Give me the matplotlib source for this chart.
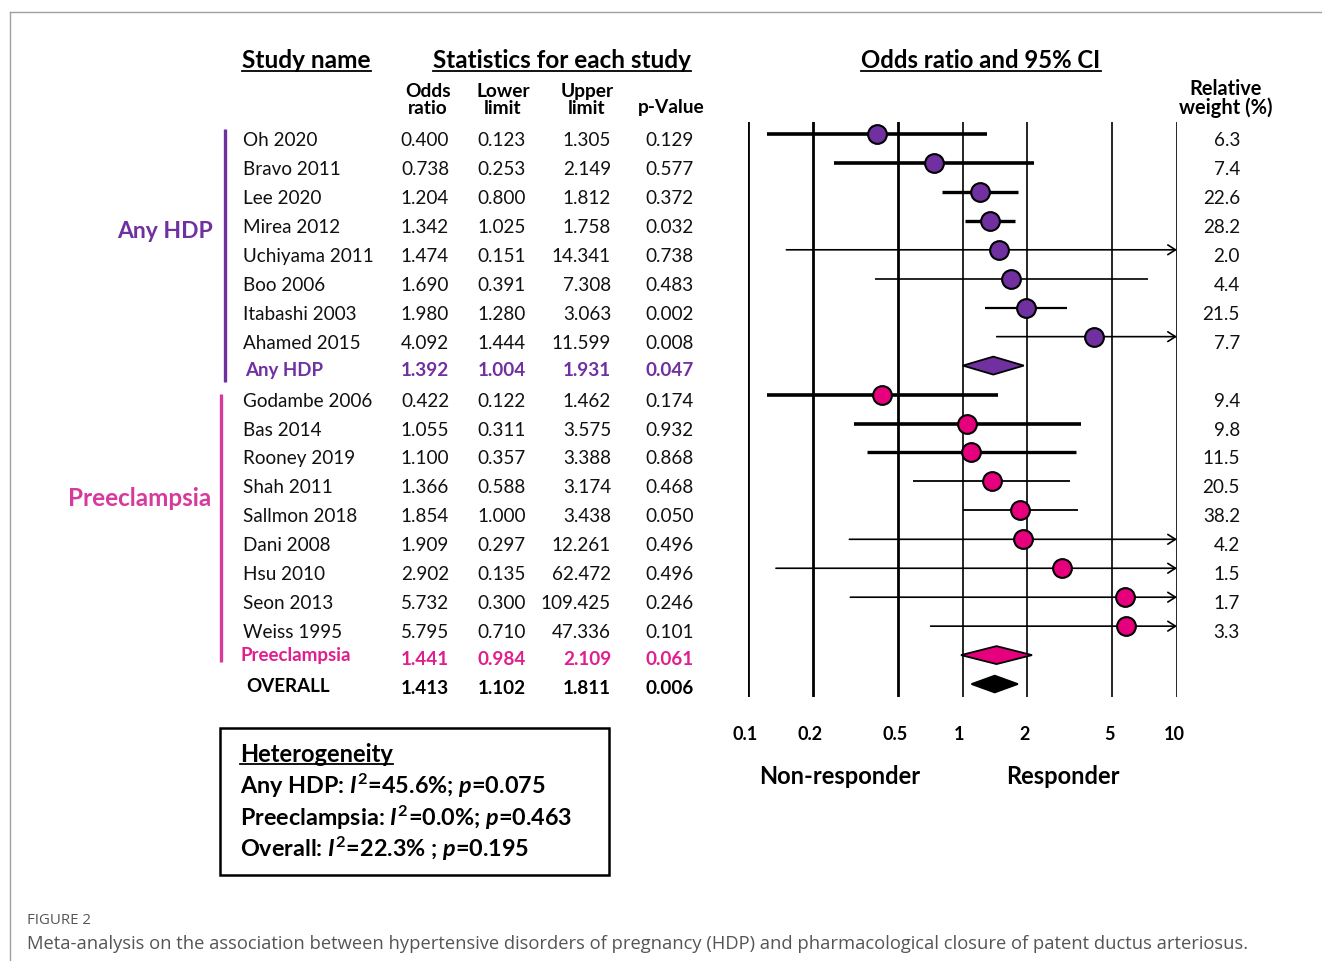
import matplotlib
matplotlib.use("Agg")
import matplotlib.pyplot as plt
from matplotlib.patches import Polygon, Rectangle

plt.rcParams['font.family'] = ['Lato', 'DejaVu Sans']
plt.rcParams['mathtext.fontset'] = 'custom'
plt.rcParams['mathtext.rm'] = 'Lato:bold'
plt.rcParams['mathtext.it'] = 'Lato:italic:bold'
plt.rcParams['mathtext.bf'] = 'Lato:bold'

# ---------------- data ----------------
hdp_names = ["Oh 2020", "Bravo 2011", "Lee 2020", "Mirea 2012", "Uchiyama 2011",
             "Boo 2006", "Itabashi 2003", "Ahamed 2015"]
hdp_or = [0.400, 0.738, 1.204, 1.342, 1.474, 1.690, 1.980, 4.092]
hdp_lo = [0.123, 0.253, 0.800, 1.025, 0.151, 0.391, 1.280, 1.444]
hdp_hi = [1.305, 2.149, 1.812, 1.758, 14.341, 7.308, 3.063, 11.599]
hdp_p = [0.129, 0.577, 0.372, 0.032, 0.738, 0.483, 0.002, 0.008]
hdp_w = [6.3, 7.4, 22.6, 28.2, 2.0, 4.4, 21.5, 7.7]
hdp_sum = [1.392, 1.004, 1.931, 0.047]

pe_names = ["Godambe 2006", "Bas 2014", "Rooney 2019", "Shah 2011", "Sallmon 2018",
            "Dani 2008", "Hsu 2010", "Seon 2013", "Weiss 1995"]
pe_or = [0.422, 1.055, 1.100, 1.366, 1.854, 1.909, 2.902, 5.732, 5.795]
pe_lo = [0.122, 0.311, 0.357, 0.588, 1.000, 0.297, 0.135, 0.300, 0.710]
pe_hi = [1.462, 3.575, 3.388, 3.174, 3.438, 12.261, 62.472, 109.425, 47.336]
pe_p = [0.174, 0.932, 0.868, 0.468, 0.050, 0.496, 0.496, 0.246, 0.101]
pe_w = [9.4, 9.8, 11.5, 20.5, 38.2, 4.2, 1.5, 1.7, 3.3]
pe_sum = [1.441, 0.984, 2.109, 0.061]

overall_sum = [1.413, 1.102, 1.811, 0.006]

x_ticks = [0.1, 0.2, 0.5, 1, 2, 5, 10]
x_tick_labels = ["0.1", "0.2", "0.5", "1", "2", "5", "10"]

het_lines = [r"Any HDP: $I^2$=45.6%; $p$=0.075",
             r"Preeclampsia: $I^2$=0.0%; $p$=0.463",
             r"Overall: $I^2$=22.3% ; $p$=0.195"]

# ---------------- styles ----------------
PURPLE = '#7030A0'
PINK = '#E6007E'
PINK_TXT = '#E01F8E'
PINK_LBL = '#D63A9C'
hdp_lw = [2.6, 2.6, 2.4, 2.4, 1.2, 1.2, 1.6, 1.2]
pe_lw = [2.6, 2.6, 2.4, 1.3, 1.3, 1.2, 1.2, 1.2, 1.2]

W, H = 1322, 961
fig = plt.figure(figsize=(W / 100, H / 100), dpi=100)

ov = fig.add_axes([0, 0, 1, 1])
ov.set_xlim(0, W)
ov.set_ylim(H, 0)
ov.axis('off')

FX0, FX1 = 748, 1177
FY0, FY1 = 122, 697
ROW0, ROWH = 134, 28.95
fa = fig.add_axes([FX0 / W, 1 - FY1 / H, (FX1 - FX0) / W, (FY1 - FY0) / H])
fa.set_xscale('log')
fa.set_xlim(0.1, 10)
fa.set_ylim((FY1 - ROW0) / ROWH, (FY0 - ROW0) / ROWH)
fa.axis('off')
fa.patch.set_alpha(0)

for t in x_ticks:
    lw = 2.0 if t < 1 else 1.2
    fa.axvline(t, color='black', lw=lw, zorder=1)

def draw_study(row, o, lo, hi, color, lw):
    if hi > 10:
        fa.annotate('', xy=(10, row), xytext=(lo, row),
                    arrowprops=dict(arrowstyle='->,head_length=0.55,head_width=0.35',
                                    color='black', lw=lw, shrinkA=0, shrinkB=0),
                    zorder=2)
    else:
        fa.plot([lo, hi], [row, row], color='black', lw=lw, solid_capstyle='butt', zorder=2)
    fa.plot([o], [row], 'o', ms=13.5, mfc=color, mec='black', mew=1.5, zorder=3)

def draw_diamond(row, o, lo, hi, color, h=0.31):
    poly = Polygon([(lo, row), (o, row - h), (hi, row), (o, row + h)],
                   closed=True, fc=color, ec='black', lw=1.3, zorder=3)
    fa.add_patch(poly)

FS = 13.6
COL_NAME = 243
COL_OR, COL_LO, COL_HI, COL_P, COL_W = 449, 526, 611, 694, 1240

def text_row(y, name, vals, color='#111111', bold=False, name_dx=0, w=None):
    fw = 'bold' if bold else 'normal'
    ov.text(COL_NAME + name_dx, y, name, fontsize=FS if not bold else 13.5,
            color=color, fontweight=fw, ha='left', va='center')
    for x, v in zip([COL_OR, COL_LO, COL_HI, COL_P], vals):
        ov.text(x, y, f"{v:.3f}", fontsize=FS, color=color, fontweight=fw,
                ha='right', va='center')
    if w is not None:
        ov.text(COL_W, y, f"{w:.1f}", fontsize=FS, color=color, ha='right', va='center')

row = 0
for i in range(len(hdp_names)):
    draw_study(row, hdp_or[i], hdp_lo[i], hdp_hi[i], PURPLE, hdp_lw[i])
    text_row(ROW0 + ROWH * row + 6.5, hdp_names[i], [hdp_or[i], hdp_lo[i], hdp_hi[i], hdp_p[i]], w=hdp_w[i])
    row += 1
draw_diamond(row, hdp_sum[0], hdp_sum[1], hdp_sum[2], PURPLE)
text_row(ROW0 + ROWH * row + 5, "Any HDP", hdp_sum, color=PURPLE, bold=True, name_dx=2)
row += 1
for i in range(len(pe_names)):
    draw_study(row, pe_or[i], pe_lo[i], pe_hi[i], PINK, pe_lw[i])
    text_row(ROW0 + ROWH * row + 6.5, pe_names[i], [pe_or[i], pe_lo[i], pe_hi[i], pe_p[i]], w=pe_w[i])
    row += 1
draw_diamond(row, pe_sum[0], pe_sum[1], pe_sum[2], PINK)
ov.text(COL_NAME - 2, ROW0 + ROWH * row + 0, "Preeclampsia", fontsize=13.5, color=PINK_TXT,
        fontweight='bold', ha='left', va='center')
for x, v in zip([COL_OR, COL_LO, COL_HI, COL_P], pe_sum):
    ov.text(x, ROW0 + ROWH * row + 4, f"{v:.3f}", fontsize=FS, color=PINK_TXT,
            fontweight='bold', ha='right', va='center')
row += 1
draw_diamond(row, overall_sum[0], overall_sum[1], overall_sum[2], 'black', h=0.29)
ov.text(COL_NAME + 3, ROW0 + ROWH * row + 2, "OVERALL", fontsize=13.5, color='black',
        fontweight='bold', ha='left', va='center')
for x, v in zip([COL_OR, COL_LO, COL_HI, COL_P], overall_sum):
    ov.text(x, ROW0 + ROWH * row + 4, f"{v:.3f}", fontsize=FS, color='black',
            fontweight='bold', ha='right', va='center')

# group brackets and labels
ov.plot([225, 225], [129, 382], color=PURPLE, lw=2.4, solid_capstyle='butt')
ov.plot([221, 221], [394, 662], color=PINK_LBL, lw=2.4, solid_capstyle='butt')
ov.text(213, 232, "Any HDP", fontsize=16.5, fontweight='bold', color=PURPLE, ha='right', va='center')
ov.text(211, 498, "Preeclampsia", fontsize=17.5, fontweight='bold', color=PINK_LBL, ha='right', va='center')

# headers
hdrs = []
hdrs.append(ov.text(242, 61, "Study name", fontsize=17.6, fontweight='bold', ha='left', va='center'))
hdrs.append(ov.text(562, 61, "Statistics for each study", fontsize=17.5, fontweight='bold', ha='center', va='center'))
hdrs.append(ov.text(981, 61, "Odds ratio and 95% CI", fontsize=17.2, fontweight='bold', ha='center', va='center'))
sub_fs = 13.8
subs = [(428, "Odds", "ratio", 97), (503, "Lower", "limit", 97), (587, "Upper", "limit", 97),
        (1226, "Relative", "weight (%)", 95)]
for x, l1, l2, yb in subs:
    f = 14.4 if l1 == "Relative" else sub_fs
    ov.text(x, yb, l1, fontsize=f, fontweight='bold', ha='center', va='baseline')
    ov.text(x, 114, l2, fontsize=f, fontweight='bold', ha='center', va='baseline')
ov.text(671, 113, "p-Value", fontsize=sub_fs, fontweight='bold', ha='center', va='baseline')

# x tick labels
for t, lab in zip(x_ticks, x_tick_labels):
    xp = fa.transData.transform((t, 0))[0]
    ov.text(xp * W / fig.bbox.width - 3, 734, lab, fontsize=13, fontweight='bold', ha='center', va='center')
ov.text(840, 776, "Non-responder", fontsize=17, fontweight='bold', ha='center', va='center')
ov.text(1063, 776, "Responder", fontsize=17, fontweight='bold', ha='center', va='center')

# heterogeneity box
ov.add_patch(Rectangle((220, 728), 389, 147, fill=False, ec='black', lw=1.8))
hdrs.append(ov.text(240, 754, "Heterogeneity", fontsize=17, fontweight='bold', ha='left', va='center'))
for k, s in enumerate(het_lines):
    ov.text(240, 786 + 31.5 * k, s, fontsize=16.8, fontweight='bold', ha='left', va='center')

# caption
ov.text(27, 921, "FIGURE 2", fontsize=10.8, color='#555555', family='Open Sans', ha='left', va='center')
ov.text(27, 944, "Meta-analysis on the association between hypertensive disorders of pregnancy (HDP) "
        "and pharmacological closure of patent ductus arteriosus.",
        fontsize=13.2, color='#555555', family='Open Sans', ha='left', va='center')

# frame
ov.plot([10, W], [12, 12], color='#a0a0a0', lw=1)
ov.plot([10, 10], [12, H], color='#a0a0a0', lw=1)

# underlines
fig.canvas.draw()
r = fig.canvas.get_renderer()
inv = ov.transData.inverted()
for t in hdrs:
    bb = t.get_window_extent(r)
    (x0, y0), (x1, y1) = inv.transform([(bb.x0, bb.y0), (bb.x1, bb.y1)])
    ov.plot([x0, x1], [y0 - 1, y0 - 1], color='black', lw=1.3)

fig.savefig("out.png", dpi=100)
